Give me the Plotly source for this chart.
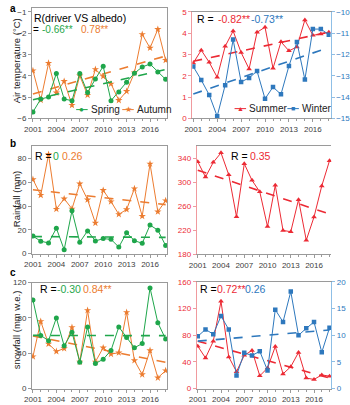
import numpy as np
import plotly.graph_objects as go

years = list(range(2001, 2019))
xtick_vals = [2001, 2004, 2007, 2010, 2013, 2016]

# Panel a: air temperature (°C)
temp_spring = [-5.7, -5.09, -5.0, -3.89, -5.09, -5.17, -3.89, -4.79, -4.15, -3.56, -5.17, -4.76, -4.3, -3.88, -3.59, -3.45, -3.82, -4.17]
temp_autumn = [-3.76, -5.14, -3.41, -4.8, -4.26, -5.38, -4.0, -4.91, -3.7, -4.03, -4.38, -5.15, -4.73, -3.86, -2.06, -2.7, -1.82, -3.27]
temp_summer = [2.6, 3.2, 2.63, 1.93, 3.38, 4.1, 3.09, 2.32, 4.04, 4.28, 2.35, 3.59, 3.17, 3.35, 4.62, 3.9, 3.96, 4.04]
temp_winter = [-12.57, -13.2, -13.9, -14.9, -13.44, -11.3, -13.29, -13.1, -12.78, -14.08, -13.53, -13.87, -12.54, -11.42, -13.18, -10.81, -10.81, -11.07]

# Panel b: rainfall (mm)
rain_spring = [14.7, 10.4, 9.0, 21.3, 3.3, 36.0, 9.6, 19.1, 10.6, 12.6, 12.0, 5.5, 17.5, 10.9, 8.7, 24.0, 19.7, 6.8]
rain_autumn = [62.3, 49.1, 83.3, 37.4, 46.1, 37.6, 58.7, 45.3, 25.7, 53.2, 43.7, 33.0, 37.1, 54.6, 31.4, 75.4, 35.2, 44.5]
rain_summer = [334.5, 308.8, 333.4, 349.3, 312.6, 242.5, 331.2, 303.3, 284.1, 226.0, 295.0, 219.5, 217.3, 271.0, 203.0, 242.0, 294.0, 336.2]

# Panel c: snowfall (mm w.e.)
snow_spring = [100.4, 60.2, 54.3, 80.1, 48.4, 63.9, 29.9, 69.8, 28.4, 33.2, 43.2, 69.8, 58.0, 46.2, 51.0, 114.1, 74.6, 56.1]
snow_autumn = [36.2, 76.1, 50.6, 42.1, 45.4, 69.4, 30.3, 88.6, 30.3, 46.2, 39.1, 40.6, 86.4, 31.8, 15.9, 43.2, 12.2, 20.3]
snow_summer = [63.6, 46.0, 70.9, 131.1, 47.5, 25.4, 49.9, 57.2, 19.1, 30.8, 63.1, 22.0, 32.8, 54.3, 15.7, 13.7, 20.5, 18.6]
snow_winter = [9.8, 11.1, 10.2, 13.6, 11.1, 2.45, 6.7, 6.2, 7.0, 3.4, 14.8, 12.5, 18.2, 10.0, 11.3, 12.5, 6.8, 11.4]

GREEN = "#1fa64b"
ORANGE = "#ec7c30"
RED = "#ec2a34"
BLUE = "#2e78bd"
GRAY_TXT = "#404040"
FRAME = "#9a9a9a"
FONT = "Liberation Sans, Arial, sans-serif"

W, H = 350, 405
def fx(px):
    return px / W
def fy(py):
    return 1 - py / H

fig = go.Figure()

def add_series(vals, color, symbol, size, xa, ya):
    fig.add_trace(go.Scatter(x=years, y=vals, mode="lines+markers", xaxis=xa, yaxis=ya,
                             line=dict(color=color, width=1),
                             marker=dict(color=color, symbol=symbol, size=size),
                             showlegend=False, hoverinfo="skip"))
    k, b = np.polyfit(years, vals, 1)
    tx = [years[0], years[-1]]
    fig.add_trace(go.Scatter(x=tx, y=[k * t + b for t in tx], mode="lines", xaxis=xa, yaxis=ya,
                             line=dict(color=color, width=1.6, dash="dash"),
                             showlegend=False, hoverinfo="skip"))

# panel a
add_series(temp_autumn, ORANGE, "star", 5.5, "x", "y")
add_series(temp_spring, GREEN, "circle", 5, "x", "y")
add_series(temp_summer, RED, "triangle-up", 5, "x2", "y2")
add_series(temp_winter, BLUE, "square", 4.5, "x2", "y3")
# panel b
add_series(rain_autumn, ORANGE, "star", 5.5, "x3", "y4")
add_series(rain_spring, GREEN, "circle", 5, "x3", "y4")
add_series(rain_summer, RED, "triangle-up", 5, "x4", "y5")
# panel c
add_series(snow_autumn, ORANGE, "star", 5.5, "x5", "y7")
add_series(snow_spring, GREEN, "circle", 5, "x5", "y7")
add_series(snow_summer, RED, "triangle-up", 5, "x6", "y8")
add_series(snow_winter, BLUE, "square", 4.5, "x6", "y9")

tickfont = dict(family=FONT, size=8, color=GRAY_TXT)
XR = [2000.88, 2018.22]

def xaxis(x0, x1, ya):
    return dict(domain=[fx(x0), fx(x1)], range=XR, anchor=ya, tickvals=xtick_vals,
                ticks="outside", ticklen=3, tickcolor=FRAME, showline=True, linecolor=FRAME,
                linewidth=1, mirror=True, showgrid=False, zeroline=False, tickfont=tickfont,
                minor=dict(dtick=1, tick0=2001, ticks="outside", ticklen=2, tickcolor=FRAME, showgrid=False))

def yaxis(y0, y1, rng, dtick, xa, color=GRAY_TXT, line=FRAME, side="left", overlay=None, mirror=True):
    d = dict(domain=[fy(y1), fy(y0)], range=rng, dtick=dtick, anchor=xa, side=side,
             ticks="outside", ticklen=3, tickcolor=line, showline=True, linecolor=line,
             linewidth=1, mirror=mirror, showgrid=False, zeroline=False,
             tickfont=dict(family=FONT, size=8, color=color))
    if overlay:
        d["overlaying"] = overlay
    return d

LRED = "#f09a9e"
LBLUE = "#8fbfe6"

layout = dict(
    width=W, height=H, margin=dict(l=0, r=0, t=0, b=0),
    paper_bgcolor="white", plot_bgcolor="white", showlegend=False,
    font=dict(family=FONT),
    xaxis=xaxis(25, 166, "y"),
    yaxis=yaxis(4, 117, [-6, -0.82], 1, "x"),
    xaxis2=xaxis(192, 336, "y2"),
    yaxis2=yaxis(8, 117, [0, 5], 1, "x2", RED, LRED, mirror=False),
    yaxis3=yaxis(8, 117, [-15, -10], 1, "x2", BLUE, LBLUE, side="right", overlay="y2", mirror=False),
    xaxis3=xaxis(25, 166, "y4"),
    yaxis4=yaxis(145.7, 255.3, [0, 90], 20, "x3"),
    xaxis4=xaxis(196.7, 336.7, "y5"),
    yaxis5=yaxis(145.7, 255.7, [180, 360], 40, "x4", RED, LRED, mirror=False),
    yaxis6=yaxis(145.7, 255.7, [0, 20], 5, "x4", BLUE, LBLUE, side="right", overlay="y5", mirror=False),
    xaxis5=xaxis(25, 166, "y7"),
    yaxis7=yaxis(285, 393.3, [0, 120], 40, "x5"),
    xaxis6=xaxis(196.7, 336.7, "y8"),
    yaxis8=yaxis(284.3, 393.3, [0, 160], 40, "x6", RED, LRED, mirror=False),
    yaxis9=yaxis(284.3, 393.3, [0, 20], 5, "x6", BLUE, LBLUE, side="right", overlay="y8", mirror=False),
)
layout["yaxis5"]["tick0"] = 180
fig.update_layout(**layout)

anns = []
def ann(text, x, y, color="black", size=10.5, xanchor="left", bold=False, angle=0):
    if bold:
        text = "<b>" + text + "</b>"
    anns.append(dict(text=text, x=fx(x), y=fy(y), xref="paper", yref="paper", showarrow=False,
                     xanchor=xanchor, yanchor="middle", textangle=angle, borderpad=0,
                     font=dict(family=FONT, size=size, color=color)))

# panel letters
ann("a", 1, 5, bold=True, size=10)
ann("b", 1, 143, bold=True, size=10)
ann("c", 1, 275, bold=True, size=10)

# y titles
ann("Air temperature (°C)", 9, 58, color="#222222", size=9.5, xanchor="center", angle=-90)
ann("Rainfall (mm)", 9, 200, color="#222222", size=9.5, xanchor="center", angle=-90)
ann("snowfall (mm w.e.)", 9, 333, color="#222222", size=9.5, xanchor="center", angle=-90)

# R texts
ann("R(driver VS albedo)", 26, 14)
ann("=", 25, 26, size=10)
ann("-0.66**", 34, 26, GREEN, size=10)
ann("0.78**", 75, 26, ORANGE, size=10)
ann("R =", 196, 15)
ann("-0.82**", 218, 15, RED)
ann("-0.73**", 252, 15, BLUE)
ann("R =", 27, 155)
ann("0", 46, 155, GREEN)
ann("0.26", 55, 155, ORANGE)
ann("R =", 231, 155)
ann("0.35", 251, 155, RED)
ann("R =", 32, 291)
ann("-0.30", 50, 291, GREEN)
ann("0.84**", 77, 291, ORANGE)
ann("R =", 199, 291)
ann("0.72**", 217, 291, RED)
ann("0.26", 246, 291, BLUE)

# legends (panel a)
shapes = []
def leg(x, y, color, glyph, gsize, label):
    shapes.append(dict(type="line", xref="paper", yref="paper", x0=fx(x - 6), x1=fx(x + 6),
                       y0=fy(y), y1=fy(y), line=dict(color=color, width=1)))
    anns.append(dict(text=glyph, x=fx(x), y=fy(y), xref="paper", yref="paper", showarrow=False,
                     xanchor="center", yanchor="middle", font=dict(size=gsize, color=color)))
    anns.append(dict(text=label, x=fx(x + 7), y=fy(y), xref="paper", yref="paper", showarrow=False,
                     xanchor="left", yanchor="middle", font=dict(family=FONT, size=10, color="#222222")))

leg(77, 108, GREEN, "●", 8, "Spring")
leg(125, 108, ORANGE, "★", 8, "Autumn")
leg(242, 107, RED, "▲", 7, "Summer")
leg(297, 107, BLUE, "■", 7, "Winter")

fig.update_layout(annotations=anns, shapes=shapes)
fig.write_html("out.html", config={"displayModeBar": False},
               post_script="document.body.style.margin='0';document.body.style.overflow='hidden';")
